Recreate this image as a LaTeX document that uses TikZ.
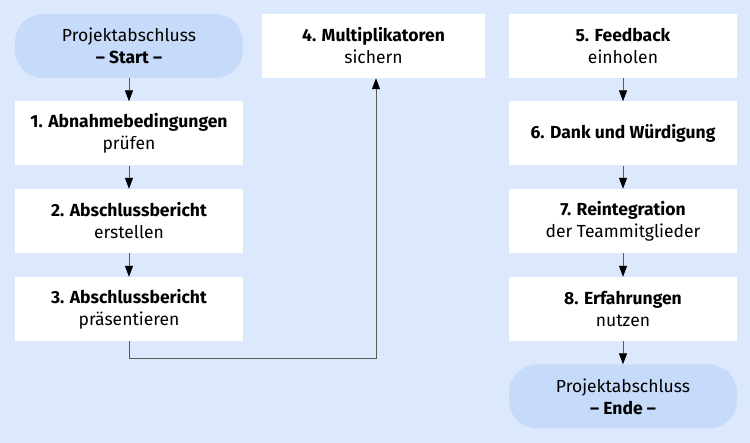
\documentclass[tikz,border=0pt]{standalone}
\usepackage{fontspec}
\setmainfont{Fira Sans}
\usetikzlibrary{arrows.meta}
\definecolor{bgblue}{HTML}{DCE8FC}
\definecolor{termblue}{HTML}{C6DAFA}
\colorlet{linegray}{black!65}
\tikzset{
    stepbox/.style={fill=white,inner sep=0pt,minimum width=228pt,minimum height=64pt,
        align=center,font=\fontsize{17.5}{22}\selectfont},
    termbox/.style={stepbox,fill=termblue,rounded corners=28pt},
    flow/.style={linegray,line width=0.8pt,-{Triangle[length=11pt,width=8pt,black]}}
}
\begin{document}
\begin{tikzpicture}[x=1pt,y=-1pt]
        \fill [bgblue] (0,0) rectangle (750,443);
        % left column
        \node [termbox] (start) at (129,46) {Projektabschluss\\\textbf{-- Start --}};
        \node [stepbox] (s1) at (129,133.5) {\textbf{1. Abnahmebedingungen}\\prüfen};
        \node [stepbox] (s2) at (129,221) {\textbf{2. Abschlussbericht}\\erstellen};
        \node [stepbox] (s3) at (129,309) {\textbf{3. Abschlussbericht}\\präsentieren};
        % middle column
        \node [stepbox,minimum width=223pt] (s4) at (373.5,46) {\textbf{4. Multiplikatoren}\\sichern};
        % right column
        \node [stepbox] (s5) at (623,46) {\textbf{5. Feedback}\\einholen};
        \node [stepbox] (s6) at (623,133.5) {\textbf{6. Dank und Würdigung}};
        \node [stepbox] (s7) at (623,221) {\textbf{7. Reintegration}\\der Teammitglieder};
        \node [stepbox] (s8) at (623,309) {\textbf{8. Erfahrungen}\\nutzen};
        \node [termbox] (ende) at (623,396.5) {Projektabschluss\\\textbf{-- Ende --}};
        \coordinate (turn) at (376,358);
        \foreach \a/\b in {start/s1,s1/s2,s2/s3,s5/s6,s6/s7,s7/s8,s8/ende} {
            \draw [flow] (\a.south) -- (\b.north);
        }
        \draw [flow] (s3.south) |- (turn) -- (turn |- s4.south);
    \end{tikzpicture}
\end{document}
